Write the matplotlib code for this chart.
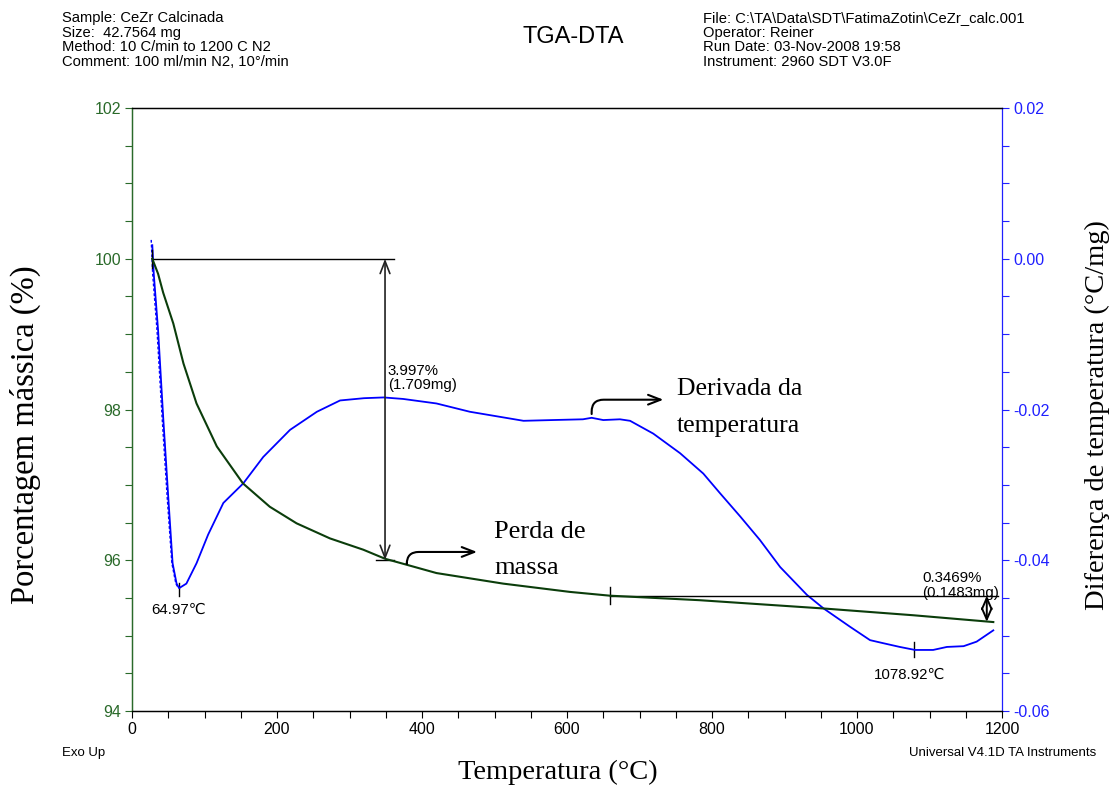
import matplotlib.pyplot as plt
from matplotlib.ticker import MultipleLocator, FormatStrFormatter

plt.rcParams['font.family'] = ['Liberation Sans', 'DejaVu Sans']
plt.rcParams['axes.unicode_minus'] = False

# TGA curve: temperature (C) vs mass (%)
t_tga = [28, 36, 43, 57, 71, 89, 117, 153, 190, 227, 273, 319, 349, 379,
         420, 512, 604, 659, 783, 954, 1078, 1188]
tga = [100.0, 99.8, 99.55, 99.14, 98.61, 98.08, 97.51, 97.02, 96.71, 96.49,
       96.29, 96.14, 96.02, 95.94, 95.83, 95.69, 95.58, 95.53, 95.47, 95.36,
       95.27, 95.18]

# DTA curve: temperature (C) vs temperature difference (C/mg)
t_dta = [28, 30, 36, 43, 50, 56, 61.5, 65, 75, 89, 105, 126, 153.5, 181, 218,
         255, 287, 320, 347, 374, 420, 466, 540, 580, 622, 634, 650, 673, 687,
         719, 756, 788, 811, 839, 866, 894, 931, 954, 990, 1018, 1036, 1059,
         1080, 1105, 1124, 1147, 1165, 1188]
dta = [0.0018, -0.002, -0.0095, -0.021, -0.0316, -0.0404, -0.0431, -0.0437,
       -0.0431, -0.0404, -0.0366, -0.0324, -0.0298, -0.0263, -0.0227, -0.0203,
       -0.0188, -0.0185, -0.0184, -0.0186, -0.0192, -0.0203, -0.0215, -0.0214,
       -0.0213, -0.0211, -0.0214, -0.0213, -0.0215, -0.0232, -0.0258, -0.0285,
       -0.0311, -0.0342, -0.0373, -0.0409, -0.0446, -0.0464, -0.0488, -0.0506,
       -0.0510, -0.0515, -0.0519, -0.0519, -0.0515, -0.0514, -0.0508, -0.0493]

# second (dashed) trace of the first DTA drop
t_dash = [26.5, 28.5, 34.5, 41.5, 48.5, 55, 60.5, 64]
dta_dash = [0.0025, -0.002, -0.0095, -0.021, -0.0316, -0.0404, -0.0431, -0.0437]

# step annotations
step1_t, step1_top, step1_bot = 349, 100.0, 96.003
step2_t, step2_top, step2_bot = 1179, 95.53, 95.183
step2_start = 659
peak1_t, peak1_v = 65, -0.0437
peak2_t, peak2_v = 1079, -0.0519

green = '#0b3d0b'
green_ax = '#2a6a2a'
blue = '#0000ff'
blue_ax = '#2020ff'

W, H = 1111, 785
fig = plt.figure(figsize=(W / 100, H / 100), dpi=100)
ax1 = fig.add_axes([132 / W, 1 - 711 / H, 870 / W, 603 / H])
ax2 = ax1.twinx()

ax1.plot(t_tga, tga, color=green, lw=1.5, zorder=3)
ax2.plot(t_dta, dta, color=blue, lw=1.3, zorder=3)
ax2.plot(t_dash, dta_dash, color=blue, lw=1, ls=(0, (2, 1.5)), zorder=3)

ax1.set_xlim(0, 1200)
ax1.set_ylim(94, 102)
ax2.set_ylim(-0.06, 0.02)

ax1.xaxis.set_major_locator(MultipleLocator(200))
ax1.xaxis.set_minor_locator(MultipleLocator(50))
ax1.yaxis.set_major_locator(MultipleLocator(2))
ax1.yaxis.set_minor_locator(MultipleLocator(0.5))
ax2.yaxis.set_major_locator(MultipleLocator(0.02))
ax2.yaxis.set_minor_locator(MultipleLocator(0.005))
ax2.yaxis.set_major_formatter(FormatStrFormatter('%.2f'))

ax1.tick_params(axis='x', which='both', direction='out', length=5, width=0.8,
                labelsize=11.5, pad=3)
ax1.tick_params(axis='y', which='both', direction='out', length=5, width=0.8,
                colors=green_ax, labelsize=11.5, pad=3)
ax2.tick_params(axis='y', which='both', direction='out', length=5, width=0.8,
                colors=blue_ax, labelsize=11.5, pad=3)

ax1.spines['left'].set_color(green_ax)
ax2.spines['left'].set_color(green_ax)
ax1.spines['right'].set_visible(False)
ax2.spines['right'].set_color(blue_ax)
for sp in ax1.spines.values():
    sp.set_linewidth(0.9)
for sp in ax2.spines.values():
    sp.set_linewidth(0.9)

ax1.set_zorder(2)
ax1.patch.set_visible(False)
ax2.set_zorder(1)

# axis titles
serif = ['Liberation Serif', 'DejaVu Serif']
fig.text(25 / W, 1 - 435 / H, 'Porcentagem mássica (%)', family=serif,
         fontsize=23.5, rotation=90, ha='center', va='center')
fig.text(1097 / W, 1 - 415 / H, 'Diferença de temperatura (°C/mg)', family=serif,
         fontsize=20.5, rotation=90, ha='center', va='center')
fig.text(558 / W, 1 - 772 / H, 'Temperatura (°C)', family=serif,
         fontsize=20.5, ha='center', va='center')

# header
left_lines = ['Sample: CeZr Calcinada', 'Size:  42.7564 mg',
              'Method: 10 C/min to 1200 C N2', 'Comment: 100 ml/min N2, 10°/min']
right_lines = [r'File: C:\TA\Data\SDT\FatimaZotin\CeZr_calc.001',
               'Operator: Reiner', 'Run Date: 03-Nov-2008 19:58',
               'Instrument: 2960 SDT V3.0F']
for i, (a, b) in enumerate(zip(left_lines, right_lines)):
    y = 1 - (18 + i * 14.5) / H
    fig.text(62 / W, y, a, fontsize=10.6, va='center')
    fig.text(703 / W, y, b, fontsize=10.6, va='center')
fig.text(573 / W, 1 - 37 / H, 'TGA-DTA', fontsize=17, ha='center', va='center')
fig.text(62 / W, 1 - 753 / H, 'Exo Up', fontsize=9.5, va='center')
fig.text(1096 / W, 1 - 753 / H, 'Universal V4.1D TA Instruments', fontsize=9.5,
         ha='right', va='center')

# step 1 (3.997 %)
ax1.plot([step1_t - 321, step1_t + 12], [step1_top, step1_top], color='black', lw=1)
ax1.plot([step1_t - 321, step1_t - 321], [step1_top + 0.12, step1_top - 0.12],
         color='black', lw=1)
ax1.plot([step1_t - 12, step1_t + 12], [step1_bot, step1_bot], color='black', lw=1)
ax1.annotate('', xy=(step1_t, step1_top), xytext=(step1_t, step1_bot),
             arrowprops=dict(arrowstyle='<->,head_length=0.9,head_width=0.35',
                             color='#222222', lw=1.2, shrinkA=0, shrinkB=0))
ax1.text(step1_t + 4, 98.42, '3.997%\n(1.709mg)', fontsize=10.8, va='center',
         linespacing=1.05)

# step 2 (0.3469 %)
ax1.plot([step2_start, step2_t + 15], [step2_top, step2_top], color='black', lw=1)
ax1.plot([step2_start, step2_start], [step2_top + 0.11, step2_top - 0.11],
         color='black', lw=1)
ax1.annotate('', xy=(step2_t, step2_top), xytext=(step2_t, step2_bot),
             arrowprops=dict(arrowstyle='<->,head_length=0.8,head_width=0.35',
                             color='black', lw=1.4, shrinkA=0, shrinkB=0))
ax1.text(1090, 95.665, '0.3469%\n(0.1483mg)', fontsize=10.8, va='center',
         linespacing=1.05)

# peak markers
ax2.plot([peak1_t, peak1_t], [peak1_v + 0.0007, peak1_v - 0.001], color='black', lw=1)
ax2.text(27, -0.0466, '64.97℃', fontsize=10.8, va='center')
ax2.plot([peak2_t, peak2_t], [peak2_v + 0.001, peak2_v - 0.001], color='black', lw=1)
ax2.text(peak2_t - 7, -0.0552, '1078.92℃', fontsize=10.8, ha='center', va='center')

# callouts
ax1.annotate('', xy=(476, 96.11), xytext=(379, 95.96),
             arrowprops=dict(arrowstyle='->,head_length=0.9,head_width=0.35',
                             connectionstyle='angle,angleA=90,angleB=0,rad=12',
                             color='black', lw=1.5, shrinkA=0, shrinkB=0))
ax1.text(500, 96.37, 'Perda de', family=serif, fontsize=19, va='center')
ax1.text(500, 95.90, 'massa', family=serif, fontsize=19, va='center')

ax1.annotate('', xy=(733, 98.13), xytext=(634, 97.94),
             arrowprops=dict(arrowstyle='->,head_length=0.9,head_width=0.35',
                             connectionstyle='angle,angleA=90,angleB=0,rad=12',
                             color='black', lw=1.5, shrinkA=0, shrinkB=0))
ax1.text(752, 98.27, 'Derivada da', family=serif, fontsize=18.5, va='center')
ax1.text(752, 97.78, 'temperatura', family=serif, fontsize=18.5, va='center')

fig.savefig('out.png', dpi=100)
